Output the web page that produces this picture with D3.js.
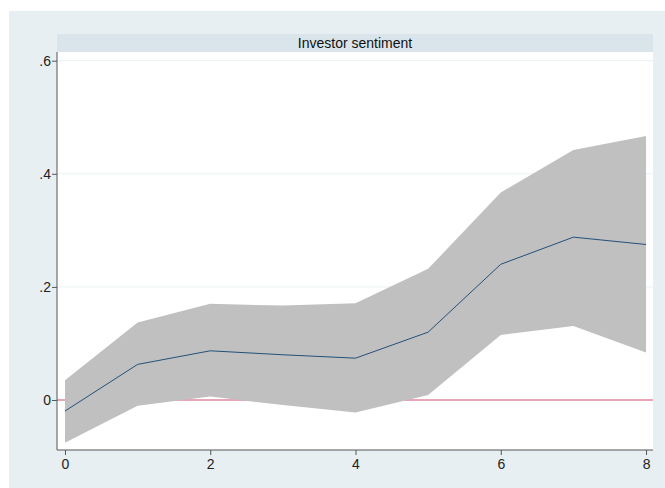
<!DOCTYPE html>
<html><head><meta charset="utf-8">
<script src="https://cdn.jsdelivr.net/npm/d3@7"></script>
<style>html,body{margin:0;padding:0;background:#fff;}svg{display:block;}</style>
</head><body>
<svg id="c" width="665" height="488"></svg>
<script>
const steps = [0,1,2,3,4,5,6,7,8];
const irf   = [-0.0195,0.063,0.087,0.080,0.074,0.120,0.240,0.288,0.275];
const upper = [0.035,0.137,0.170,0.167,0.171,0.232,0.367,0.442,0.467];
const lower = [-0.0755,-0.010,0.006,-0.009,-0.022,0.009,0.115,0.131,0.084];
const yTicks = [0,0.2,0.4,0.6];
const yTickLabels = ["0",".2",".4",".6"];
const xTicks = [0,2,4,6,8];
const title = "Investor sentiment";

const svg = d3.select("#c");
const font = "'Liberation Sans', Arial, sans-serif";
svg.append("rect").attr("x",9).attr("y",11).attr("width",656).attr("height",477).attr("fill","#e8eff2");
const L=57,R=653,T=52,B=450;
svg.append("rect").attr("x",L).attr("y",34).attr("width",R-L).attr("height",T-34).attr("fill","#d9e5eb");
svg.append("text").attr("x",(L+R)/2).attr("y",48).attr("text-anchor","middle")
  .attr("font-family",font).attr("font-size",14).attr("fill","#111").text(title);
svg.append("rect").attr("x",L).attr("y",T).attr("width",R-L).attr("height",B-T).attr("fill","#fff");

const x = d3.scaleLinear().domain([-0.11,8.096]).range([L,R]);
const y = d3.scaleLinear().domain([-0.0884,0.6154]).range([B,T]);

// gridlines
svg.append("g").selectAll("line").data(yTicks.filter(d=>d>0)).join("line")
  .attr("x1",L).attr("x2",R).attr("y1",d=>y(d)).attr("y2",d=>y(d))
  .attr("stroke","#eaf1f3").attr("stroke-width",1);

// zero line
svg.append("line").attr("x1",L).attr("x2",R).attr("y1",y(0)).attr("y2",y(0))
  .attr("stroke","#e0889e").attr("stroke-width",1.5);

const data = steps.map((s,i)=>({s, m:irf[i], lo:lower[i], hi:upper[i]}));
svg.append("path").datum(data)
  .attr("d", d3.area().x(d=>x(d.s)).y0(d=>y(d.lo)).y1(d=>y(d.hi)))
  .attr("fill","#c0c0c0");
svg.append("path").datum(data)
  .attr("d", d3.line().x(d=>x(d.s)).y(d=>y(d.m)))
  .attr("fill","none").attr("stroke","#24507a").attr("stroke-width",1);

// axes
const yAxis = d3.axisLeft(y).tickValues(yTicks).tickFormat((d,i)=>yTickLabels[i]).tickSize(5).tickSizeOuter(0);
const gy = svg.append("g").attr("transform",`translate(${L},0)`).call(yAxis);
gy.select(".domain").attr("stroke","#555").attr("d",`M0,${T}V${B}`);
gy.selectAll(".tick line").attr("stroke","#555");
gy.selectAll(".tick text").attr("font-family",font).attr("font-size",14).attr("fill","#222").attr("x",-6);

const xAxis = d3.axisBottom(x).tickValues(xTicks).tickFormat(d3.format("d")).tickSize(5).tickSizeOuter(0);
const gx = svg.append("g").attr("transform",`translate(0,${B})`).call(xAxis);
gx.select(".domain").attr("stroke","#555").attr("d",`M${L},0H${R}`);
gx.selectAll(".tick line").attr("stroke","#555");
gx.selectAll(".tick text").attr("font-family",font).attr("font-size",14).attr("fill","#222").attr("y",9);
</script>
</body></html>
